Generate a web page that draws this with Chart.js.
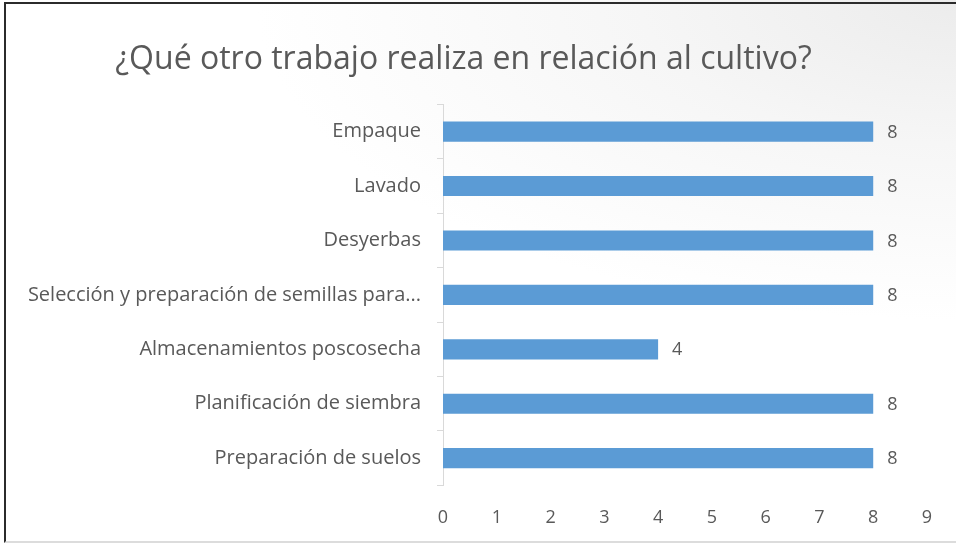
<!DOCTYPE html>
<html>
<head>
<meta charset="utf-8">
<script src="https://cdn.jsdelivr.net/npm/chart.js@4"></script>
<style>
  html, body { margin: 0; padding: 0; background: #fff; }
  #wrap {
    position: absolute; left: 0; top: 0; width: 956px; height: 546px;
    background: radial-gradient(ellipse 700px 320px at 100% 0%, #ececec 0%, #f6f6f6 45%, #ffffff 100%);
  }
  #frame {
    position: absolute; left: 4px; top: 2px; width: 952px; height: 541px;
    border-top: 2px solid #2b2b2b; border-left: 2px solid #2b2b2b;
    border-bottom: 2px solid #dcdcdc; box-sizing: border-box; pointer-events: none;
  }
</style>
</head>
<body>
<div id="wrap">
  <canvas id="chart" width="956" height="546"></canvas>
  <div id="frame"></div>
</div>
<script>
// Datos del gráfico
var categorias = [
  "Empaque",
  "Lavado",
  "Desyerbas",
  "Selección y preparación de semillas para...",
  "Almacenamientos poscosecha",
  "Planificación de siembra",
  "Preparación de suelos"
];
var valores = [8, 8, 8, 8, 4, 8, 8];
var ticksX = [0, 1, 2, 3, 4, 5, 6, 7, 8, 9];

var grisTexto = "#595959";
var fuente = "'Open Sans'";

// Etiquetas de valor al final de cada barra
var etiquetasPlugin = {
  id: "etiquetas",
  afterDatasetsDraw: function (chart) {
    var ctx = chart.ctx;
    var meta = chart.getDatasetMeta(0);
    ctx.save();
    ctx.font = "18px " + fuente;
    ctx.fillStyle = grisTexto;
    ctx.textAlign = "left";
    ctx.textBaseline = "middle";
    meta.data.forEach(function (bar, i) {
      ctx.fillText(String(valores[i]), bar.x + 14, bar.y + 1);
    });
    ctx.restore();
  }
};

var ctx = document.getElementById("chart").getContext("2d");
var myChart = new Chart(ctx, {
  type: "bar",
  data: {
    labels: categorias,
    datasets: [{
      data: valores,
      backgroundColor: "#5B9BD5",
      borderWidth: 0,
      categoryPercentage: 1,
      barPercentage: 0.37
    }]
  },
  options: {
    indexAxis: "y",
    responsive: false,
    animation: false,
    layout: { padding: { left: 0, right: 29, top: 0, bottom: 3 } },
    plugins: {
      legend: { display: false },
      tooltip: { enabled: false },
      title: {
        display: true,
        text: "¿Qué otro trabajo realiza en relación al cultivo?",
        color: grisTexto,
        font: { family: fuente, size: 32, weight: "normal" },
        padding: { top: 41, bottom: 25 }
      }
    },
    scales: {
      x: {
        min: 0,
        max: 9,
        afterBuildTicks: function (scale) {
          scale.ticks = ticksX.map(function (v) { return { value: v }; });
        },
        grid: { display: false },
        border: { display: false },
        ticks: {
          color: grisTexto,
          font: { family: fuente, size: 18 },
          padding: 14
        }
      },
      y: {
        afterFit: function (scale) { scale.width = 443; },
        grid: {
          offset: true,
          drawOnChartArea: false,
          tickLength: 6,
          color: "#d9d9d9"
        },
        border: { color: "#d9d9d9" },
        ticks: {
          color: grisTexto,
          font: { family: fuente, size: 20 },
          padding: 16
        }
      }
    }
  },
  plugins: [etiquetasPlugin]
});
</script>
</body>
</html>
